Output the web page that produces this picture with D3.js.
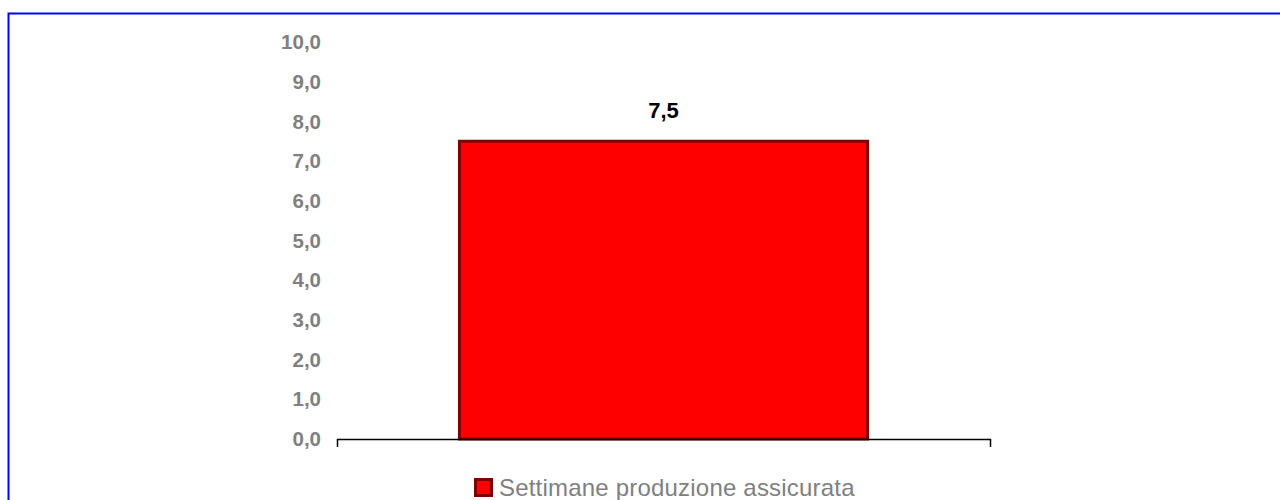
<!DOCTYPE html>
<html>
<head>
<meta charset="utf-8">
<script src="https://cdn.jsdelivr.net/npm/d3@7"></script>
<style>
  body { margin: 0; background: #fff; }
  svg { display: block; font-family: "Liberation Sans", Arial, sans-serif; }
</style>
</head>
<body>
<svg id="chart" width="1280" height="500"></svg>
<script>
// data
var categories = ["Settimane produzione assicurata"];
var values = [7.5];
var yTicks = [0, 1, 2, 3, 4, 5, 6, 7, 8, 9, 10];
var seriesName = "Settimane produzione assicurata";

var svg = d3.select("#chart");
var fmt = function(v) { return d3.format(".1f")(v).replace(".", ","); };

// outer blue frame
svg.append("rect")
    .attr("x", 8.5).attr("y", 13.5)
    .attr("width", 1290).attr("height", 500)
    .attr("fill", "none")
    .attr("stroke", "#0000ff")
    .attr("stroke-width", 2);

var plotLeft = 337, plotRight = 990, plotTop = 42, plotBottom = 439;

var x = d3.scaleBand()
    .domain(categories)
    .range([plotLeft, plotRight])
    .paddingInner(0.375)
    .paddingOuter(0.18);

var y = d3.scaleLinear()
    .domain([0, 10])
    .range([plotBottom, plotTop]);

// y tick labels (no axis line)
svg.append("g").selectAll("text")
    .data(yTicks)
    .enter().append("text")
    .attr("x", 321)
    .attr("y", function(d) { return y(d); })
    .attr("dy", "0.35em")
    .attr("text-anchor", "end")
    .attr("font-size", 20.5)
    .attr("font-weight", "bold")
    .attr("fill", "#808080")
    .text(fmt);

// bars
svg.append("g").selectAll("rect")
    .data(values)
    .enter().append("rect")
    .attr("x", function(d, i) { return x(categories[i]); })
    .attr("y", function(d) { return y(d); })
    .attr("width", x.bandwidth())
    .attr("height", function(d) { return y(0) - y(d); })
    .attr("fill", "#ff0000")
    .attr("stroke", "#800000")
    .attr("stroke-width", 3);

// value labels
svg.append("g").selectAll("text")
    .data(values)
    .enter().append("text")
    .attr("x", function(d, i) { return x(categories[i]) + x.bandwidth() / 2; })
    .attr("y", function(d) { return y(d) - 31; })
    .attr("dy", "0.35em")
    .attr("text-anchor", "middle")
    .attr("font-size", 22)
    .attr("font-weight", "bold")
    .attr("fill", "#000")
    .text(fmt);

// x axis line with end ticks
var xAxis = d3.axisBottom(x).tickValues([]).tickSizeOuter(8);
svg.append("g")
    .attr("transform", "translate(0," + plotBottom + ")")
    .call(xAxis)
    .select(".domain")
    .attr("stroke", "#000")
    .attr("stroke-width", 1.5);

// legend
var legend = svg.append("g").attr("transform", "translate(474,478)");
legend.append("rect")
    .attr("x", 1.5).attr("y", 1.5)
    .attr("width", 16).attr("height", 16)
    .attr("fill", "#ff0000")
    .attr("stroke", "#800000")
    .attr("stroke-width", 3);
legend.append("text")
    .attr("x", 25)
    .attr("y", 10)
    .attr("dy", "0.35em")
    .attr("font-size", 24)
    .attr("letter-spacing", 0.2)
    .attr("fill", "#808080")
    .text(seriesName);
</script>
</body>
</html>
